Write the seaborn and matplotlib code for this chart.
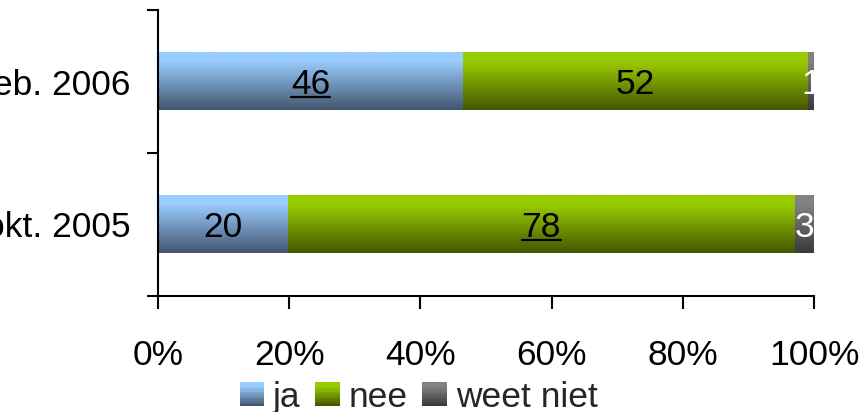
import matplotlib
matplotlib.use('Agg')
import matplotlib.pyplot as plt
import numpy as np
import pandas as pd
import seaborn as sns
from matplotlib.colors import to_rgb
from matplotlib.legend_handler import HandlerBase
from matplotlib.lines import Line2D
from matplotlib.patches import Patch, Rectangle
from matplotlib.ticker import FixedLocator, PercentFormatter

# data
periods = ['feb. 2006', 'okt. 2005']
answers = ['ja', 'nee', 'weet niet']
ja = [46, 20]
nee = [52, 78]
weet_niet = [1, 3]

# which labels are underlined in the original
underlined = {('ja', 'feb. 2006'), ('nee', 'okt. 2005')}

top_colors = ['#99CCFF', '#99CC00', '#828282']
bottom_colors = ['#42566F', '#455700', '#3A3A3A']
label_colors = ['black', 'black', 'white']
FS = 25.5

sns.set_theme(style='ticks')
plt.rcParams['font.family'] = ['Liberation Sans', 'DejaVu Sans']


def gradient_rows(top, bottom, n):
    t = np.linspace(0, 1, n)
    w = np.clip((t - 0.15) / 0.85, 0, 1)[:, None]
    return (1 - w) * np.array(to_rgb(top)) + w * np.array(to_rgb(bottom))


class GradientHandler(HandlerBase):
    def __init__(self, top, bottom):
        super().__init__()
        self.rows = gradient_rows(top, bottom, 10)

    def create_artists(self, legend, orig_handle, xdescent, ydescent,
                       width, height, fontsize, trans):
        n = len(self.rows)
        return [Rectangle((-xdescent, -ydescent + height * (n - 1 - i) / n),
                          width, height / n, facecolor=c, edgecolor='none',
                          transform=trans)
                for i, c in enumerate(self.rows)]


df = pd.DataFrame({'period': periods, 'ja': ja, 'nee': nee, 'weet niet': weet_niet})
shares = df[answers].div(df[answers].sum(axis=1), axis=0)
ends = shares.cumsum(axis=1)

fig = plt.figure(figsize=(8.62, 4.12), dpi=100)
ax = fig.add_axes([0.1833, 0.2816, 0.7610, 0.694])

# stacked bars: draw the running totals from the last series back to the first
for i in reversed(range(len(answers))):
    name = answers[i]
    n_before = len(ax.patches)
    sns.barplot(x=ends[name], y=df['period'], orient='h', order=periods,
                color=top_colors[i], saturation=1, width=0.405, ax=ax)
    grad = gradient_rows(top_colors[i], bottom_colors[i], 64)[:, None, :]
    for p in ax.patches[n_before:]:
        x0, y0, w, h = p.get_x(), p.get_y(), p.get_width(), p.get_height()
        ax.imshow(grad, extent=[x0, x0 + w, y0 + h, y0], aspect='auto',
                  origin='upper', zorder=2 + (len(answers) - i) * 0.1,
                  interpolation='bilinear')

# value labels in the middle of each segment
labels_to_underline = []
for i, name in enumerate(answers):
    for row, period in enumerate(periods):
        val = df.loc[row, name]
        x = ends.loc[row, name] - shares.loc[row, name] / 2
        t = ax.text(x, row + 0.02, str(val), ha='center', va='center', fontsize=FS,
                    color=label_colors[i], zorder=5)
        if (name, period) in underlined:
            labels_to_underline.append(t)

ax.set_xlim(0, 1)
ax.set_ylim(1.5, -0.5)
ax.set_xlabel('')
ax.set_ylabel('')
ax.set_xticks(np.linspace(0, 1, 6))
ax.xaxis.set_major_formatter(PercentFormatter(1, decimals=0))
ax.set_yticks(range(len(periods)))
ax.set_yticklabels(periods)
ax.yaxis.set_minor_locator(FixedLocator([-0.5, 0.5, 1.5]))

ax.tick_params(axis='x', length=9, width=1.5, pad=22, labelsize=FS, colors='black')
ax.tick_params(axis='y', which='major', length=0, pad=20, labelsize=FS, colors='black')
ax.tick_params(axis='y', which='minor', length=8, width=1.5, left=True, colors='black')
sns.despine(ax=ax)
for side in ['left', 'bottom']:
    ax.spines[side].set_linewidth(1.5)
    ax.spines[side].set_color('black')

handles = [Patch(label=a) for a in answers]
handler_map = {h: GradientHandler(top_colors[i], bottom_colors[i]) for i, h in enumerate(handles)}
fig.legend(handles=handles, labels=answers, handler_map=handler_map,
           loc='center', bbox_to_anchor=(0.4855, 0.036), ncol=3, frameon=False,
           fontsize=FS, handlelength=0.7, handleheight=0.68, handletextpad=0.25,
           columnspacing=0.4, borderaxespad=0, borderpad=0)

# underline: a line just under the digits of the chosen labels
fig.canvas.draw()
renderer = fig.canvas.get_renderer()
for t in labels_to_underline:
    bb = t.get_window_extent(renderer)
    (x0, y0), (x1, _) = fig.transFigure.inverted().transform([[bb.x0, bb.y0 + 4], [bb.x1, bb.y0]])
    fig.add_artist(Line2D([x0, x1], [y0, y0], color='black', lw=1.6,
                          transform=fig.transFigure, zorder=6))

fig.savefig('out.png', dpi=100)
